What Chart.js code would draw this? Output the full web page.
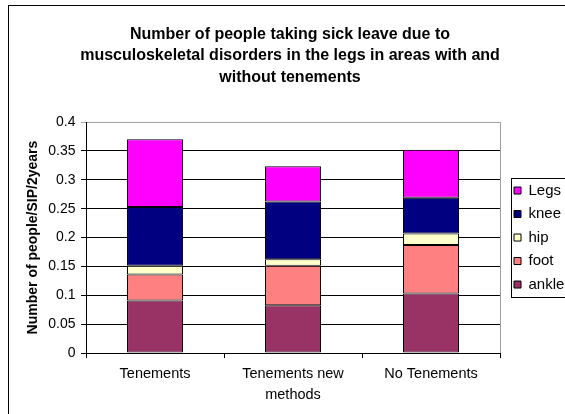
<!DOCTYPE html>
<html>
<head>
<meta charset="utf-8">
<script src="https://cdn.jsdelivr.net/npm/chart.js@4.4.1/dist/chart.umd.min.js"></script>
<style>
    body { margin: 0; background: #fff; }
    #wrap { width: 565px; height: 414px; }
</style>
</head>
<body>
<div id="wrap"><canvas id="sickChart" width="565" height="414"></canvas></div>
<script>
// Categories and stacked values (people/SIP/2years)
const categories = ['Tenements', ['Tenements new', 'methods'], 'No Tenements'];
const ankle = [0.091, 0.083, 0.103];
const foot = [0.045, 0.068, 0.084];
const hip = [0.015, 0.0115, 0.020];
const knee = [0.102, 0.100, 0.062];
const legs = [0.117, 0.061, 0.083];

const titleLines = [
    'Number of people taking sick leave due to',
    'musculoskeletal disorders in the legs in areas with and',
    'without tenements'
];
const yTitle = 'Number of people/SIP/2years';
const yMax = 0.4;
const yStep = 0.05;

Chart.defaults.font.family = "'Liberation Sans', Arial, sans-serif";
Chart.defaults.color = '#000';

// Frame around the whole chart, border around the plot and the legend box
const framePlugin = {
    id: 'frame',
    beforeDraw(chart) {
        const ctx = chart.ctx;
        ctx.save();
        ctx.fillStyle = '#fff';
        ctx.fillRect(0, 0, chart.width, chart.height);
        ctx.restore();
    },
    afterDatasetsDraw(chart) {
        const { ctx, chartArea } = chart;
        ctx.save();
        ctx.strokeStyle = '#a0a0a0';
        ctx.lineWidth = 1;
        ctx.beginPath();
        ctx.moveTo(chartArea.right + 0.5, chartArea.top);
        ctx.lineTo(chartArea.right + 0.5, chartArea.bottom);
        ctx.stroke();
        ctx.restore();
    },
    afterDraw(chart) {
        const ctx = chart.ctx;
        ctx.save();
        ctx.strokeStyle = '#000';
        ctx.lineWidth = 1;
        ctx.strokeRect(8.5, 5.5, chart.width + 20, chart.height + 20);

        const lg = chart.legend;
        const boxes = lg.legendHitBoxes;
        if (boxes && boxes.length) {
            const top = Math.round(boxes[0].top) - 4.5;
            const last = boxes[boxes.length - 1];
            const bottom = Math.round(last.top + last.height) + 5.5;
            ctx.strokeRect(Math.round(lg.left) + 5.5, top, 100, bottom - top);
        }
        ctx.restore();
    }
};

const ctx = document.getElementById('sickChart').getContext('2d');
new Chart(ctx, {
    type: 'bar',
    data: {
        labels: categories,
        datasets: [
            { label: 'ankle', data: ankle, backgroundColor: '#993366' },
            { label: 'foot', data: foot, backgroundColor: '#FF8080' },
            { label: 'hip', data: hip, backgroundColor: '#FFFFCC' },
            { label: 'knee', data: knee, backgroundColor: '#000080' },
            { label: 'Legs', data: legs, backgroundColor: '#FF00FF' }
        ].map(ds => Object.assign(ds, {
            borderColor: '#000',
            borderWidth: 1,
            borderSkipped: false,
            barPercentage: 0.406,
            categoryPercentage: 1
        }))
    },
    options: {
        responsive: false,
        animation: false,
        layout: { padding: { left: 15, right: 0, top: 5, bottom: 3 } },
        scales: {
            x: {
                stacked: true,
                grid: { offset: true, drawOnChartArea: false, tickLength: 5, color: '#000' },
                border: { color: '#000' },
                ticks: { font: { size: 14.5, lineHeight: 1.48 }, padding: 5, maxRotation: 0, autoSkip: false }
            },
            y: {
                stacked: true,
                min: 0,
                max: yMax,
                ticks: {
                    stepSize: yStep,
                    font: { size: 14 },
                    padding: 5.5,
                    callback: v => String(+v.toFixed(2))
                },
                grid: {
                    tickLength: 5,
                    color: c => (c.tick && c.tick.value >= yMax - 1e-9) ? '#a0a0a0' : '#000'
                },
                border: { color: '#000' },
                title: {
                    display: true,
                    text: yTitle,
                    font: { size: 14, weight: 'bold', lineHeight: 1.2 },
                    padding: { top: 10, bottom: 1 }
                }
            },
            // spacer between the plot and the legend
            gap: {
                type: 'linear',
                position: 'right',
                display: true,
                grid: { display: false },
                border: { display: false },
                ticks: { display: false },
                afterFit: s => { s.width = 5.5; }
            }
        },
        plugins: {
            title: {
                display: true,
                text: titleLines,
                font: { size: 16, weight: 'bold', lineHeight: 1.34375 },
                padding: { top: 18.5, bottom: 34 }
            },
            legend: {
                position: 'right',
                fullSize: false,
                reverse: true,
                maxWidth: 59.5,
                labels: {
                    boxWidth: 7,
                    boxHeight: 7,
                    padding: 8.5,
                    font: { size: 15 },
                    color: '#000'
                }
            },
            tooltip: { enabled: false }
        }
    },
    plugins: [framePlugin]
});
</script>
</body>
</html>
